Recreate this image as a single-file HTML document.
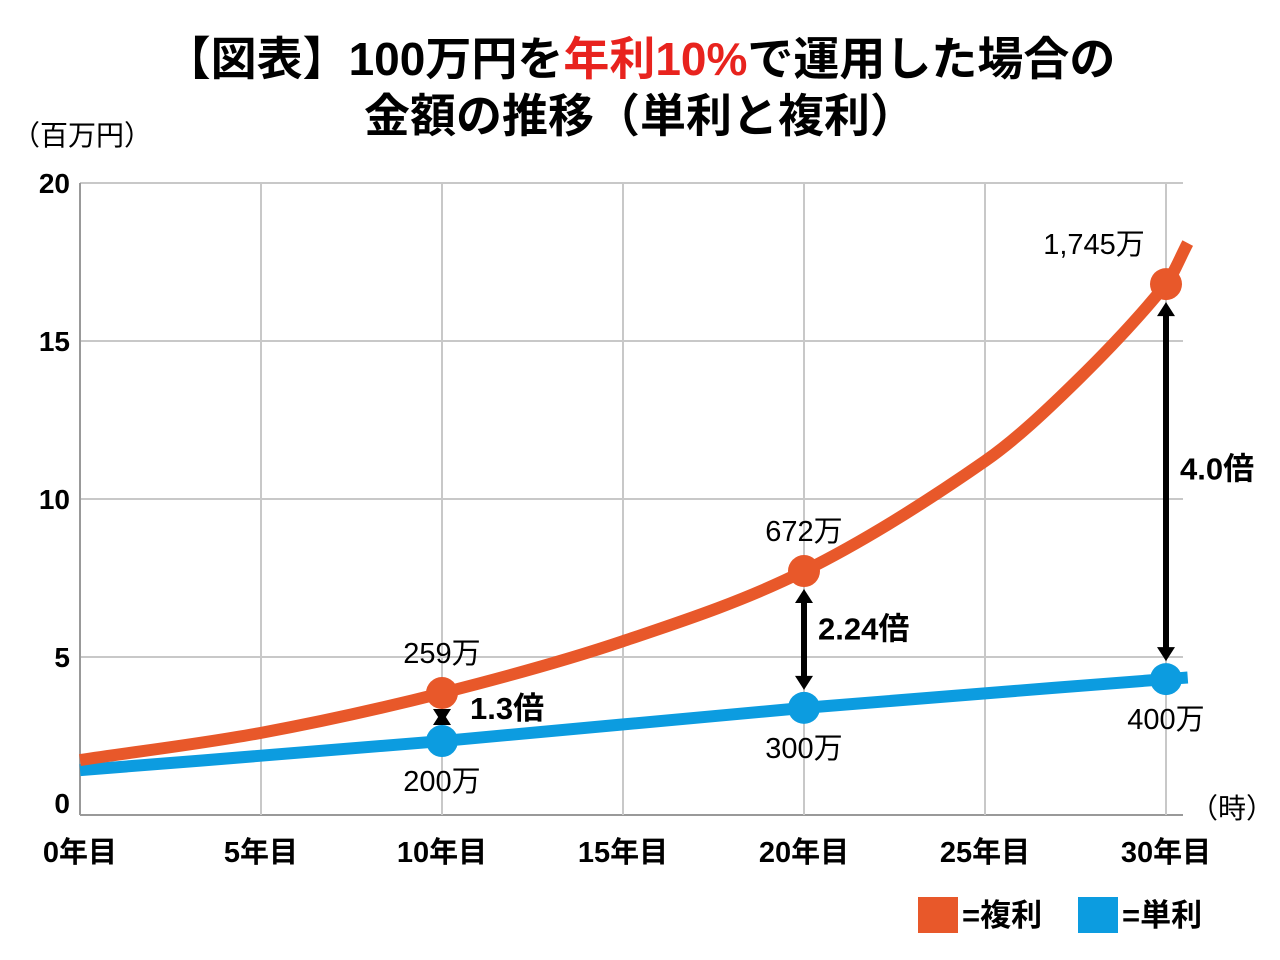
<!DOCTYPE html>
<html><head><meta charset="utf-8"><style>
body{margin:0;background:#fff}
svg{display:block;font-family:"Liberation Sans","Noto Sans CJK JP",sans-serif}
</style></head><body>
<svg width="1280" height="960" viewBox="0 0 1280 960">
<text x="640" y="75" text-anchor="middle" font-size="46" font-weight="bold">【図表】100万円を<tspan fill="#e8231e">年利10%</tspan>で運用した場合の</text>
<text x="640" y="132" text-anchor="middle" font-size="46" font-weight="bold">金額の推移（単利と複利）</text>
<text x="12" y="145" font-size="28">（百万円）</text>
<text x="1190" y="818" font-size="28">（時）</text>
<g id="grid"></g><g id="series"></g><g id="ann"></g>
<rect x="918" y="897" width="40" height="36" fill="#e8582a"/>
<text x="962" y="926" font-size="31" font-weight="bold">=複利</text>
<rect x="1078" y="897" width="40" height="36" fill="#0c9ce0"/>
<text x="1122" y="926" font-size="31" font-weight="bold">=単利</text>
</svg>
<script>
const yTicks=[0,5,10,15,20];
const xTicks=[0,5,10,15,20,25,30];
const xTickLabels=["0年目","5年目","10年目","15年目","20年目","25年目","30年目"];
const compoundYears=[0,5,10,15,20,25,27.5,30,30.6];
const compoundValues=[1.74,2.6,3.86,5.5,7.72,11.2,13.7,16.8,18.1];
const simpleYears=[0,10,20,30,30.6];
const simpleValues=[1.42,2.34,3.39,4.30,4.35];
const markerYears=[10,20,30];
const compoundMarkers=[3.86,7.72,16.8];
const simpleMarkers=[2.34,3.39,4.30];
const compoundLabels=["259万","672万","1,745万"];
const simpleLabels=["200万","300万","400万"];
const ratioLabels=["1.3倍","2.24倍","4.0倍"];
const NS="http://www.w3.org/2000/svg";
const X=v=>80+v*36.2, Y=v=>815-v*31.6;
function el(p,t,a){const e=document.createElementNS(NS,t);for(const k in a)e.setAttribute(k,a[k]);p.appendChild(e);return e;}
const g=document.getElementById('grid'),s=document.getElementById('series'),an=document.getElementById('ann');
yTicks.forEach(v=>{const l=el(g,'line',{x1:80,x2:1183,y1:Y(v),y2:Y(v),stroke:v?'#c8c8c8':'#999','stroke-width':2});


const t=el(g,'text',{x:70,y:Y(v)+(v?10:-2),'text-anchor':'end','font-size':28,'font-weight':'bold'});t.textContent=v;

});
xTicks.forEach((v,i)=>{const l=el(g,'line',{x1:X(v),x2:X(v),y1:Y(20),y2:Y(0),stroke:i?'#c8c8c8':'#999','stroke-width':2});


const t=el(g,'text',{x:X(v),y:862,'text-anchor':'middle','font-size':29,'font-weight':'bold'});t.textContent=xTickLabels[i];

});
function smooth(xs,ys){const P=xs.map((x,i)=>[X(x),Y(ys[i])]);let d=`M${P[0][0]},${P[0][1]}`;
for(let i=0;i<P.length-1;i++){const p0=P[Math.max(i-1,0)],p1=P[i],p2=P[i+1],p3=P[Math.min(i+2,P.length-1)];
const k1=(p2[0]-p1[0])/Math.max(p2[0]-p0[0],1e-6)/3, k2=(p2[0]-p1[0])/Math.max(p3[0]-p1[0],1e-6)/3;
d+=` C${p1[0]+(p2[0]-p0[0])*k1},${p1[1]+(p2[1]-p0[1])*k1} ${p2[0]-(p3[0]-p1[0])*k2},${p2[1]-(p3[1]-p1[1])*k2} ${p2[0]},${p2[1]}`;}return d;}
const ps=el(s,'path',{d:smooth(simpleYears,simpleValues),fill:'none',stroke:'#0c9ce0','stroke-width':12});


const pc=el(s,'path',{d:smooth(compoundYears,compoundValues),fill:'none',stroke:'#e8582a','stroke-width':12});


markerYears.forEach((yr,i)=>{
const x=X(yr),yc=Y(compoundMarkers[i]),ys=Y(simpleMarkers[i]);
const top=yc+18,bot=ys-18;
const a=el(an,'line',{x1:x,x2:x,y1:top+10,y2:bot-10,stroke:'#000','stroke-width':6});


el(an,'polygon',{points:`${x-9},${top+14} ${x+9},${top+14} ${x},${top}`,fill:'#000'});
el(an,'polygon',{points:`${x-9},${bot-14} ${x+9},${bot-14} ${x},${bot}`,fill:'#000'});
const r=el(an,'text',{x:x+(i==0?28:14),y:(yc+ys)/2+(i==0?2:(i==2?-2:0)),'font-size':31,'font-weight':'bold'});r.textContent=ratioLabels[i];


const c=el(s,'circle',{cx:x,cy:yc,r:16,fill:'#e8582a'});


const b=el(s,'circle',{cx:x,cy:ys,r:16,fill:'#0c9ce0'});


const cl=el(an,'text',{x:i==2?x-72:x,y:yc-30,'text-anchor':'middle','font-size':29});cl.textContent=compoundLabels[i];


const sl=el(an,'text',{x:x,y:ys+50,'text-anchor':'middle','font-size':29});sl.textContent=simpleLabels[i];


});
</script>
</body></html>
